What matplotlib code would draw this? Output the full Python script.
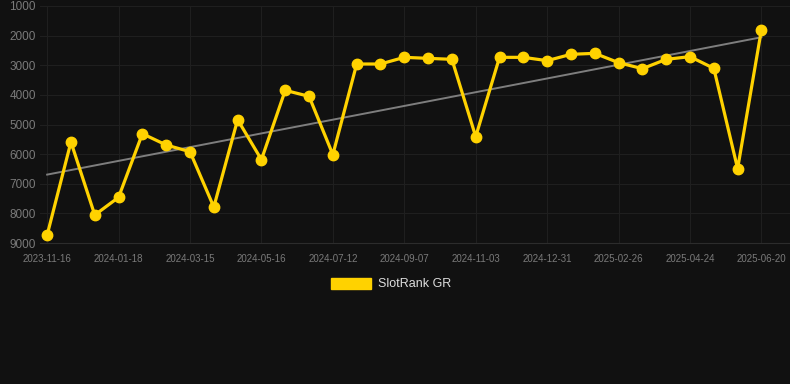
import matplotlib
matplotlib.use("Agg")
import matplotlib.pyplot as plt
from matplotlib.patches import Patch
import numpy as np

# SlotRank GR rank history (lower is better, axis is inverted)
tick_dates = ["2023-11-16", "2024-01-18", "2024-03-15", "2024-05-16", "2024-07-12", "2024-09-07",
              "2024-11-03", "2024-12-31", "2025-02-26", "2025-04-24", "2025-06-20"]
ranks = [8730, 5590, 8055, 7458, 5310, 5692, 5918, 7785, 4837, 6187,
         3847, 4049, 6018, 2958, 2958, 2733, 2767, 2800, 5411, 2733,
         2733, 2845, 2631, 2598, 2913, 3115, 2800, 2710, 3104, 6491,
         1800]
series_name = "SlotRank GR"

bg = "#111111"
gold = "#FFD200"
grid_col = "#1f1f1f"
text_col = "#7a7a7a"

fig = plt.figure(figsize=(7.9, 3.84), dpi=100, facecolor=bg)
ax = fig.add_axes([40 / 790, (384 - 243) / 384, 750 / 790, 237 / 384])
ax.set_facecolor(bg)

x = np.arange(len(ranks))
y = np.array(ranks)

# trend line (least squares)
k, b = np.polyfit(x, y, 1)
ax.plot(x, k * x + b, color="#7e7e7e", linewidth=1.4, zorder=2)

ax.plot(x, y, color=gold, linewidth=2.3, marker="o", markersize=7.5, zorder=3)

ax.set_xlim(-0.3, 31.2)
ax.set_ylim(9000, 1000)
ax.set_yticks(np.arange(1000, 9001, 1000))
ax.set_xticks(np.arange(0, len(ranks), 3))
ax.set_xticklabels(tick_dates)

for lbl in ax.get_yticklabels():
    lbl.set_family("Liberation Sans")
    lbl.set_fontsize(8.5)
    lbl.set_color(text_col)
for lbl in ax.get_xticklabels():
    lbl.set_family("Liberation Sans")
    lbl.set_fontsize(7)
    lbl.set_color(text_col)

ax.tick_params(axis="both", length=0)
ax.tick_params(axis="y", pad=3)
ax.tick_params(axis="x", pad=8)
ax.grid(True, color=grid_col, linewidth=0.8)
ax.set_axisbelow(True)
for side in ["top", "right", "left"]:
    ax.spines[side].set_visible(False)
ax.spines["bottom"].set_color("#2c2c2c")

fig.legend(handles=[Patch(color=gold, label=series_name)], loc="center",
           bbox_to_anchor=(0.495, (384 - 284) / 384), frameon=False,
           handlelength=3.2, handleheight=0.96, handletextpad=0.5,
           prop={"family": "Liberation Sans", "size": 9}, labelcolor="#dddddd")

fig.savefig("out.png", dpi=100, facecolor=bg)
